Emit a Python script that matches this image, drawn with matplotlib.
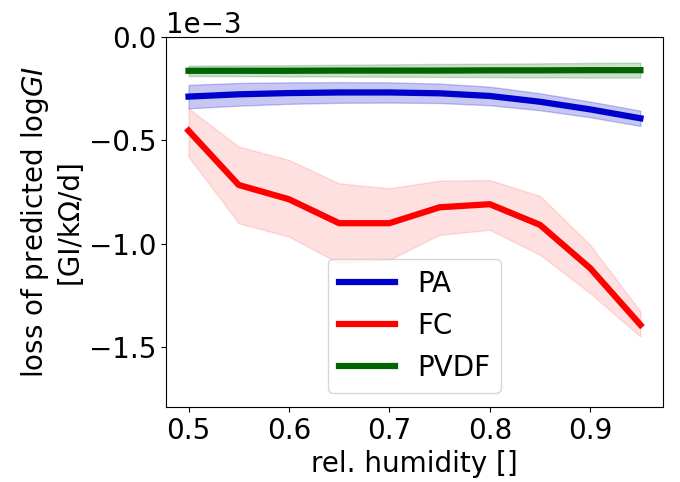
import numpy as np
import matplotlib.pyplot as plt

# relative humidity grid
humidity = [0.5, 0.55, 0.6, 0.65, 0.7, 0.75, 0.8, 0.85, 0.9, 0.95]

# mean loss of predicted log GI per material (units of 1e-3)
pa_mean = [-0.288, -0.277, -0.271, -0.268, -0.268, -0.272, -0.285, -0.313, -0.350, -0.393]
pa_lo = [-0.345, -0.332, -0.323, -0.318, -0.317, -0.319, -0.330, -0.354, -0.388, -0.430]
pa_hi = [-0.231, -0.222, -0.219, -0.218, -0.219, -0.225, -0.240, -0.272, -0.312, -0.356]

fc_mean = [-0.453, -0.716, -0.785, -0.901, -0.901, -0.824, -0.809, -0.909, -1.119, -1.393]
fc_lo = [-0.579, -0.901, -0.966, -1.095, -1.078, -0.957, -0.933, -1.054, -1.240, -1.450]
fc_hi = [-0.345, -0.530, -0.595, -0.708, -0.732, -0.695, -0.692, -0.769, -1.006, -1.328]

pvdf_mean = [-0.163, -0.163, -0.163, -0.162, -0.162, -0.162, -0.161, -0.161, -0.160, -0.160]
pvdf_lo = [-0.188, -0.189, -0.190, -0.191, -0.192, -0.193, -0.194, -0.195, -0.196, -0.196]
pvdf_hi = [-0.138, -0.137, -0.136, -0.134, -0.132, -0.130, -0.129, -0.127, -0.125, -0.124]

plt.rcParams['font.size'] = 20

fig, ax = plt.subplots(figsize=(6.8, 4.82), dpi=100)
fig.subplots_adjust(left=0.244, right=0.975, top=0.923, bottom=0.156)

x = np.array(humidity)
series = [
    ("PA", pa_mean, pa_lo, pa_hi, "mediumblue", 0.22),
    ("FC", fc_mean, fc_lo, fc_hi, "red", 0.12),
    ("PVDF", pvdf_mean, pvdf_lo, pvdf_hi, "darkgreen", 0.2),
]
for name, m, lo, hi, col, a in series:
    ax.fill_between(x, np.array(lo) * 1e-3, np.array(hi) * 1e-3, color=col, alpha=a)
    ax.plot(x, np.array(m) * 1e-3, color=col, lw=4.5, label=name)

ax.set_ylim(-1.79e-3, 0)
ax.set_yticks([0, -0.5e-3, -1.0e-3, -1.5e-3])
ax.ticklabel_format(axis="y", style="sci", scilimits=(0, 0))
ax.set_xticks([0.5, 0.6, 0.7, 0.8, 0.9])
ax.set_xlabel("rel. humidity []")
ax.set_ylabel("loss of predicted log$GI$\n[GI/k\u03a9/d]")
ax.legend(loc="lower center", handlelength=2.0)

fig.savefig("out.png")
